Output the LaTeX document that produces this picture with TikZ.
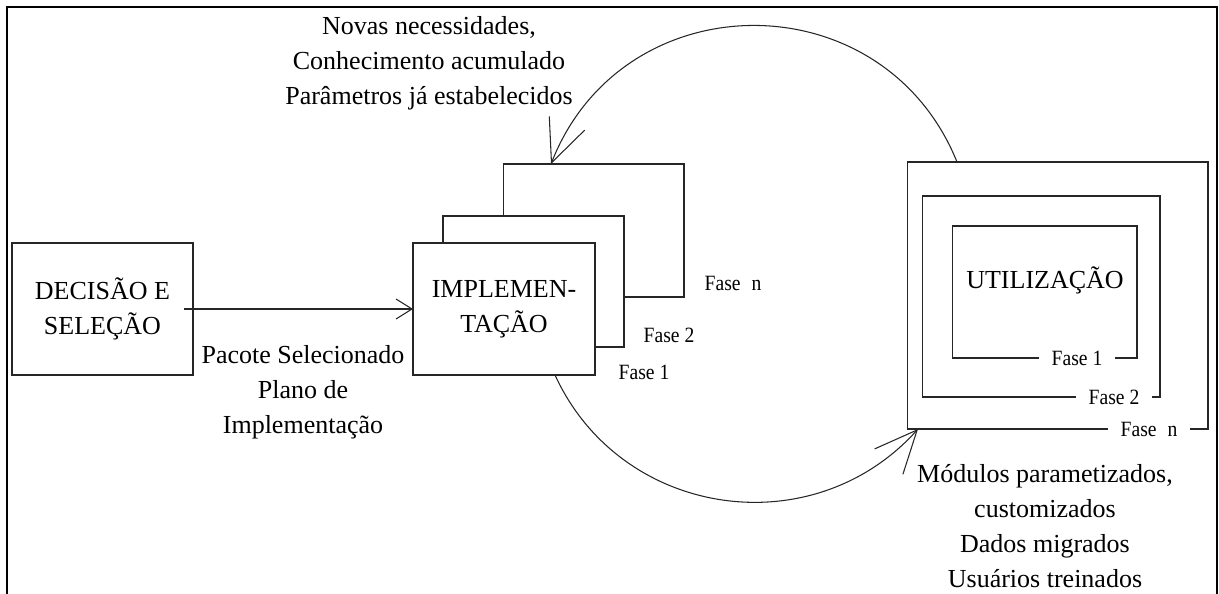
\documentclass[tikz,border=0pt]{standalone}
\usepackage{fontspec}
\setmainfont{Liberation Serif}
\newfontfamily\phasefont{Liberation Serif}[FakeStretch=0.9]
\usepackage{tikz}
\usepackage{xcolor}
\colorlet{linecolor}{black!85}
\colorlet{framecolor}{black}
\usetikzlibrary{
  arrows.meta,
}

\begin{document}
\begin{tikzpicture}[x=0.02cm,y=-0.02cm]
	\tikzstyle{every node}=[font=\fontsize{14.8}{19.9}\selectfont]
	\tikzstyle{stagebox}=[draw=linecolor, fill=white, line width=0.6pt, inner sep=0pt, outer sep=0pt, align=center]
	\tikzstyle{phaselabel}=[font=\phasefont\fontsize{12.4}{14}\selectfont, inner sep=1pt]
	\tikzstyle{phasegap}=[phaselabel, fill=white, inner xsep=0.26cm]
	\tikzstyle{passarrow}=[draw=linecolor, line width=0.6pt, -{Straight Barb[length=0.32cm,width=0.4cm]}]
	\tikzstyle{cyclearrow}=[draw=linecolor, line width=0.6pt, -{Straight Barb[length=0.85cm,width=0.76cm]}]
	\useasboundingbox (0,0) rectangle (1219,594);
	% outer frame
	\draw [framecolor, line width=1.4pt] (7,594) -- (7,7) -- (1217,7) -- (1217,594);
	% decision
	\node (dec) [stagebox, minimum width=3.62cm, minimum height=2.64cm] at (102.5,309) {DECISÃO E\\SELEÇÃO};
	\node (pacote) [align=center] at (303,392) {Pacote Selecionado\\Plano de\\Implementação};
	% implementation phases, back to front
	\node (implN) [stagebox, minimum width=3.62cm, minimum height=2.66cm] at (593.5,230.5) {};
	\node (impl2) [stagebox, minimum width=3.62cm, minimum height=2.62cm] at (533.5,281.5) {};
	\node (impl1) [stagebox, minimum width=3.64cm, minimum height=2.64cm] at (504,309) {IMPLEMEN-\\TAÇÃO};
	\node (faseIN) [phaselabel] at (733,283) {Fase\enspace n};
	\node (faseI2) [phaselabel] at (669,335) {Fase 2};
	\node (faseI1) [phaselabel] at (644,372) {Fase 1};
	\draw [passarrow] ([xshift=-0.18cm]dec.east) -- (impl1.west);
	% utilization phases
	\node (utilN) [stagebox, minimum width=6.02cm, minimum height=5.34cm] at (1057.5,295.5) {};
	\node (util2) [stagebox, minimum width=4.76cm, minimum height=4.02cm] at (1041,296.5) {};
	\node (util1) [stagebox, minimum width=3.70cm, minimum height=2.64cm] at (1044.5,292) {};
	\node (utiltxt) at (1045,280) {UTILIZAÇÃO};
	\node (faseU1) [phasegap] at (1077,358) {Fase 1};
	\node (faseU2) [phasegap] at (1114,397) {Fase 2};
	\node (faseUN) [phasegap] at (1149,429) {Fase\enspace n};
	% cycle
	\coordinate (utilout) at (957,162);
	\coordinate (implin) at (551,164);
	\coordinate (implout) at (555,375);
	\coordinate (utilin) at (918,429);
	\draw [cyclearrow] (utilout) to[out=112, in=68.6, looseness=1.24] (implin);
	\draw [cyclearrow] (implout) to[out=294.6, in=228.1, looseness=1.1] (utilin);
	\node (novas) [align=center] at (429,63) {Novas necessidades,\\Conhecimento acumulado\\Parâmetros já estabelecidos};
	\node (modulos) [align=center] at (1045,526) {Módulos parametizados,\\customizados\\Dados migrados\\Usuários treinados};
\end{tikzpicture}
\end{document}
